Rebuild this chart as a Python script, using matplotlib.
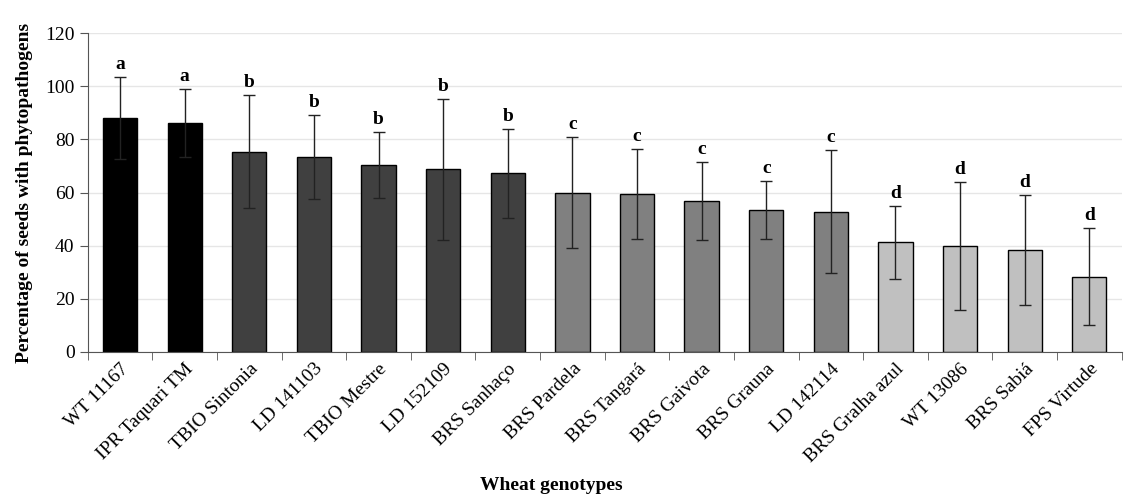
import matplotlib
matplotlib.use("Agg")
import matplotlib.pyplot as plt
import matplotlib.transforms as mtransforms
import numpy as np

genotypes = ["WT 11167", "IPR Taquari TM", "TBIO Sintonia", "LD 141103", "TBIO Mestre",
             "LD 152109", "BRS Sanhaço", "BRS Pardela", "BRS Tangará", "BRS Gaivota",
             "BRS Grauna", "LD 142114", "BRS Gralha azul", "WT 13086", "BRS Sabiá", "FPS Virtude"]
means = [88.0, 86.0, 75.3, 73.5, 70.3, 68.8, 67.2, 60.0, 59.5, 56.8, 53.5, 52.8, 41.3, 39.8, 38.2, 28.3]
errors = [15.5, 12.8, 21.3, 15.8, 12.5, 26.6, 16.9, 21.0, 17.0, 14.8, 11.0, 23.1, 13.8, 24.1, 20.7, 18.2]
letters = ["a", "a", "b", "b", "b", "b", "b", "c", "c", "c", "c", "c", "d", "d", "d", "d"]
group_colors = {"a": "#000000", "b": "#404040", "c": "#808080", "d": "#c0c0c0"}

plt.rcParams['font.family'] = ['Liberation Serif', 'DejaVu Serif']

fig = plt.figure(figsize=(11.25, 4.95), dpi=100)
ax = fig.add_axes([0.078, 0.289, 0.919, 0.644])

x = np.arange(len(genotypes))
colors = [group_colors[l] for l in letters]
ax.bar(x, means, width=0.53, color=colors, edgecolor="black", linewidth=1.0, zorder=2)
ax.errorbar(x, means, yerr=errors, fmt="none", ecolor="#222222", elinewidth=1.0,
            capsize=4, capthick=1.0, zorder=3)
for xi, m, e, l in zip(x, means, errors, letters):
    ax.text(xi, m + e + 1.5, l, ha="center", va="bottom", fontsize=14, fontweight="bold")

ax.set_xlim(-0.5, len(genotypes) - 0.5)
ax.set_ylim(0, 120)
ax.set_yticks(np.arange(0, 121, 20))
ax.yaxis.grid(True, color="#e6e6e6", linewidth=1.0, zorder=0)
ax.set_axisbelow(True)
ax.set_xticks(x)
ax.set_xticklabels(genotypes, rotation=45, ha="right", rotation_mode="anchor", fontsize=14)
offset = mtransforms.ScaledTranslation(-6 / 72, 0, fig.dpi_scale_trans)
for lbl in ax.get_xticklabels():
    lbl.set_transform(lbl.get_transform() + offset)
ax.tick_params(axis="x", which="major", length=0, pad=6)
ax.set_xticks(np.arange(-0.5, len(genotypes), 1.0), minor=True)
ax.tick_params(axis="x", which="minor", length=6, color="#555555", direction="out")
ax.tick_params(axis="y", labelsize=14, length=6, color="#555555", direction="out")
for s in ["top", "right"]:
    ax.spines[s].set_visible(False)
for s in ["left", "bottom"]:
    ax.spines[s].set_color("#555555")

ax.set_ylabel("Percentage of seeds with phytopathogens", fontsize=14, fontweight="bold", labelpad=9)
fig.text(0.49, 0.02, "Wheat genotypes", ha="center", va="center", fontsize=14, fontweight="bold")

fig.savefig("out.png", dpi=100)
